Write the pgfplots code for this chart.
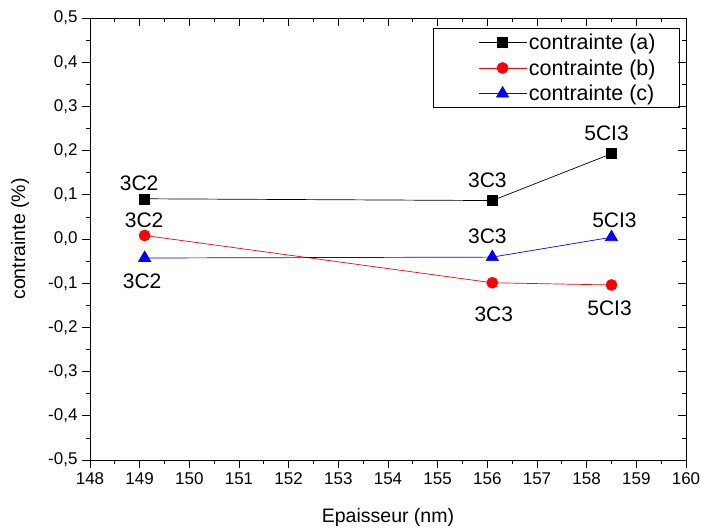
\documentclass[border=0pt]{standalone}
\usepackage{pgfplots}
\pgfplotsset{compat=1.18}
\usepackage{fontspec}
\setmainfont{Liberation Sans}
\begin{document}
\begin{tikzpicture}[x=1pt,y=1pt]
\useasboundingbox (-90pt,-71pt) rectangle (611pt,460pt);
\pgfplotsset{
  common/.style={
    scale only axis, width=596pt, height=442pt,
    at={(0pt,0pt)}, anchor=south west,
    xmin=148, xmax=160, ymin=-0.5, ymax=0.5,
    xtick distance=1, ytick distance=0.1,
    minor x tick num=1, minor y tick num=1,
    major tick length=8pt, minor tick length=4pt,
    tick style={black, line width=0.8pt},
    axis line style={line width=0.9pt},
  }
}
\begin{axis}[common,
  tick align=outside,
  xtick pos=bottom, ytick pos=left,
  /pgf/number format/assume math mode=true,
  ticklabel style={font=\fontsize{17}{19}\selectfont},
  yticklabel style={xshift=-1pt, /pgf/number format/.cd, use comma, fixed, fixed zerofill, precision=1},
  xticklabel style={yshift=-1pt, /pgf/number format/.cd, fixed, precision=0, set thousands separator={}},
  xlabel={Epaisseur (nm)}, ylabel={contrainte (\%)},
  every axis x label/.style={at={(axis description cs:0.5,0)}, anchor=center, yshift=-57pt, font=\fontsize{19.5}{21}\selectfont},
  every axis y label/.style={at={(axis description cs:0,0.5)}, anchor=center, rotate=90, yshift=70pt, font=\fontsize{19.5}{21}\selectfont},
  legend style={at={(1,1)}, xshift=-6pt, yshift=-10pt, anchor=north east, draw=black, line width=0.8pt,
    font=\fontsize{21.5}{23}\selectfont, row sep=4.5pt, inner xsep=2pt, inner ysep=3.5pt},
  legend cell align=left,
  legend image code/.code={\path[draw=none, fill=none] (0pt,0pt) -- (43pt,0pt); \draw[#1] (43pt,0pt) -- (91pt,0pt); \draw[#1, only marks] plot coordinates {(67pt,0pt)}; },
]
\addplot[black, line width=0.7pt, mark=square*, mark size=5pt, mark options={solid, line width=0.5pt}]
  coordinates {(149.1,0.091) (156.1,0.087) (158.5,0.193)};
\addlegendentry{contrainte (a)\rule{20pt}{0pt}}
\addplot[red, line width=0.7pt, mark=*, mark size=5.5pt]
  coordinates {(149.1,0.008) (156.1,-0.099) (158.5,-0.104)};
\addlegendentry{contrainte (b)\rule{20pt}{0pt}}
\addplot[blue, line width=0.7pt, mark=triangle*, mark size=7pt]
  coordinates {(149.1,-0.043) (156.1,-0.041) (158.5,0.004)};
\addlegendentry{contrainte (c)\rule{20pt}{0pt}}
\begin{scope}[font=\fontsize{21}{23}\selectfont]
\node at (axis cs:148.99,0.127) {3C2};
\node at (axis cs:149.09,0.043) {3C2};
\node at (axis cs:149.05,-0.095) {3C2};
\node at (axis cs:156.0,0.133) {3C3};
\node at (axis cs:156.0,0.007) {3C3};
\node at (axis cs:156.13,-0.171) {3C3};
\node at (axis cs:158.4,0.24) {5CI3};
\node at (axis cs:158.56,0.043) {5CI3};
\node at (axis cs:158.46,-0.157) {5CI3};
\end{scope}
\end{axis}
\begin{axis}[common,
  tick align=inside,
  xtick pos=top, ytick pos=right,
  xticklabels={}, yticklabels={},
  axis line style={draw=none},
]
\end{axis}
\end{tikzpicture}
\end{document}
